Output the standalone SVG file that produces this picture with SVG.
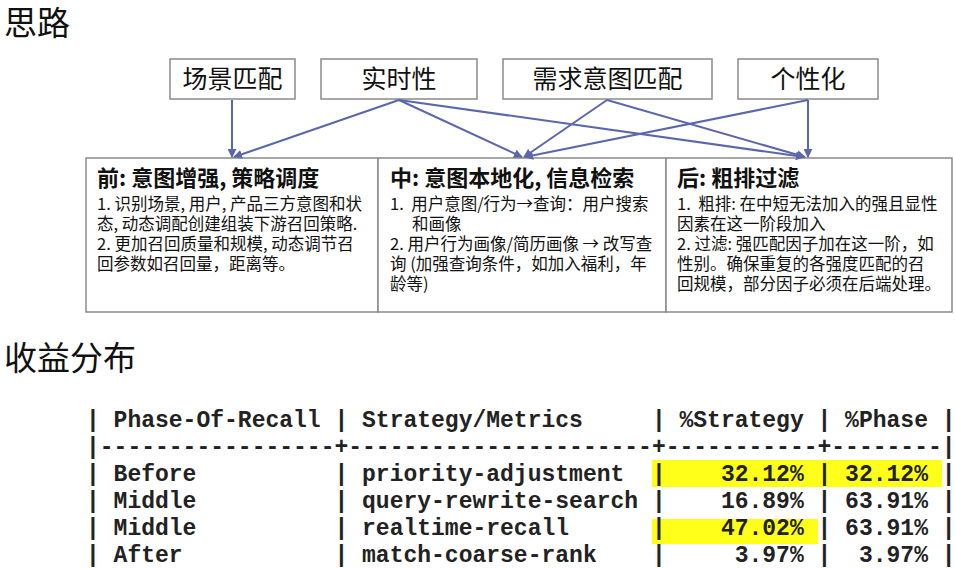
<svg xmlns="http://www.w3.org/2000/svg" width="955" height="569" viewBox="0 0 955 569">
<style>
.title{font-family:"Noto Sans CJK SC","Noto Sans",sans-serif;font-size:33px;fill:#111}
.tb{fill:#fff;stroke:#8a8a8a;stroke-width:1.5}
.tl{font-family:"Noto Sans CJK SC","Noto Sans",sans-serif;font-size:25px;fill:#111;text-anchor:middle}
.bb{fill:#fff;stroke:#8a8a8a;stroke-width:1.5}
.bx{font-family:"Noto Sans CJK SC","Noto Sans",sans-serif;font-size:16.5px;fill:#111}
.bh{font-size:22px;font-weight:bold}
.conn line{stroke:#5b67ad;stroke-width:2;marker-end:url(#ah)}
.mono{font-family:"Liberation Mono","Courier New",monospace;font-size:23px;font-weight:bold;fill:#222;white-space:pre}
.hl{fill:#ffff1a}
</style>
<defs>
<marker id="ah" viewBox="0 0 10 10" refX="9" refY="5" markerWidth="9" markerHeight="9" markerUnits="userSpaceOnUse" orient="auto">
<path d="M0,0 L10,5 L0,10 z" fill="#5b67ad"/>
</marker>
</defs>
<rect width="955" height="569" fill="#fff"/>
<text class="title" x="4" y="35">思路</text>
<text class="title" x="4" y="370">收益分布</text>

<g id="n-scene"><rect class="tb" x="170" y="59" width="125" height="40"/><text class="tl" x="232.5" y="88">场景匹配</text></g>
<g id="n-realtime"><rect class="tb" x="321" y="59" width="156" height="40"/><text class="tl" x="399" y="88">实时性</text></g>
<g id="n-intent"><rect class="tb" x="503" y="59" width="209" height="40"/><text class="tl" x="607.5" y="88">需求意图匹配</text></g>
<g id="n-personal"><rect class="tb" x="738" y="59" width="140" height="40"/><text class="tl" x="808" y="88">个性化</text></g>

<g id="n-before"><rect class="bb" x="86" y="158" width="292" height="154"/>
<text class="bx" xml:space="preserve"><tspan class="bh" x="97" y="186">前: 意图增强, 策略调度</tspan><tspan x="97" y="210">1. 识别场景, 用户, 产品三方意图和状</tspan><tspan x="97" y="230">态, 动态调配创建组装下游召回策略.</tspan><tspan x="97" y="250">2. 更加召回质量和规模, 动态调节召</tspan><tspan x="97" y="270">回参数如召回量，距离等。</tspan></text>
</g>
<g id="n-middle"><rect class="bb" x="378" y="158" width="288" height="154"/>
<text class="bx" xml:space="preserve"><tspan class="bh" x="390" y="186">中: 意图本地化, 信息检索</tspan><tspan x="390" y="210">1.  用户意图/行为→查询：用户搜索</tspan><tspan x="412" y="230">和画像</tspan><tspan x="390" y="250">2. 用户行为画像/简历画像 → 改写查</tspan><tspan x="390" y="270">询 (加强查询条件，如加入福利，年</tspan><tspan x="390" y="290">龄等)</tspan></text>
</g>
<g id="n-after"><rect class="bb" x="666" y="158" width="286" height="154"/>
<text class="bx" xml:space="preserve"><tspan class="bh" x="677" y="186">后: 粗排过滤</tspan><tspan x="677" y="210">1.  粗排: 在中短无法加入的强且显性</tspan><tspan x="677" y="230">因素在这一阶段加入</tspan><tspan x="677" y="250">2. 过滤: 强匹配因子加在这一阶，如</tspan><tspan x="677" y="270">性别。确保重复的各强度匹配的召</tspan><tspan x="677" y="290">回规模，部分因子必须在后端处理。</tspan></text>
</g>

<g id="connectors" class="conn">
<line x1="232" y1="100" x2="232" y2="157"/>
<line x1="399" y1="100" x2="234" y2="157"/>
<line x1="399" y1="100" x2="522" y2="157"/>
<line x1="399" y1="100" x2="804" y2="157"/>
<line x1="607" y1="100" x2="524" y2="157"/>
<line x1="607" y1="100" x2="805" y2="157"/>
<line x1="808" y1="100" x2="808" y2="157"/>
<line x1="808" y1="100" x2="525" y2="157"/>
</g>

<g id="table">
<rect class="hl" x="652" y="460" width="290" height="27"/>
<rect class="hl" x="652" y="519" width="166" height="25"/>
<text class="mono" x="86" y="427" xml:space="preserve">| Phase-Of-Recall | Strategy/Metrics     | %Strategy | %Phase |</text>
<text class="mono" x="86" y="454" xml:space="preserve">|-----------------+----------------------+-----------+--------|</text>
<text class="mono" x="86" y="481" xml:space="preserve">| Before          | priority-adjustment  |    32.12% | 32.12% |</text>
<text class="mono" x="86" y="508" xml:space="preserve">| Middle          | query-rewrite-search |    16.89% | 63.91% |</text>
<text class="mono" x="86" y="535" xml:space="preserve">| Middle          | realtime-recall      |    47.02% | 63.91% |</text>
<text class="mono" x="86" y="562" xml:space="preserve">| After           | match-coarse-rank    |     3.97% |  3.97% |</text>
</g>
</svg>
